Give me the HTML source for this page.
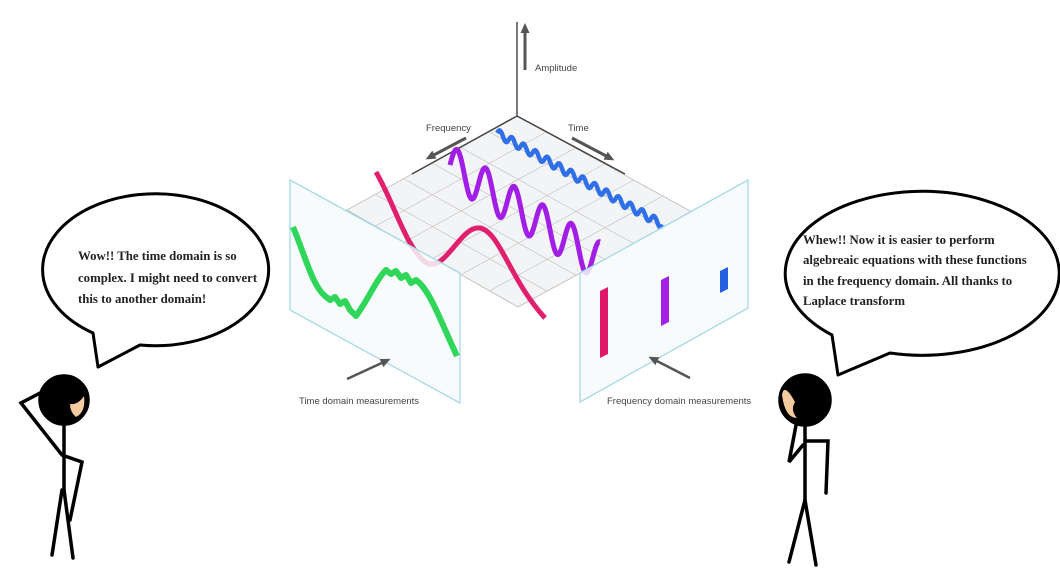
<!DOCTYPE html>
<html><head><meta charset="utf-8"><style>
html,body{margin:0;padding:0;background:#fff;width:1060px;height:586px;overflow:hidden}
svg{display:block}
.lbl{font-family:"Liberation Sans",sans-serif;font-size:9.5px;fill:#444}
.bub{font-family:"Liberation Serif",serif;font-weight:bold;font-size:12.8px;fill:#222}
</style></head><body>
<svg width="1060" height="586" viewBox="0 0 1060 586">
<defs>
<marker id="ah" markerUnits="userSpaceOnUse" markerWidth="10" markerHeight="10" refX="5" refY="5" orient="auto"><path d="M0,0.5 L10,5 L0,9.5 z" fill="#555"/></marker>
</defs>
<g>
<line x1="517" y1="22" x2="517" y2="116" stroke="#333" stroke-width="1.3"/>
<line x1="525" y1="70" x2="525" y2="28" stroke="#555" stroke-width="3" marker-end="url(#ah)"/>
<text class="lbl" x="535" y="71">Amplitude</text>
</g>
<g id="grid">
<polygon points="517,116 692,212 518,307 347,210" fill="#f3f4f6" stroke="#bbb" stroke-width="0.8"/>
</g>
<line x1="517" y1="116" x2="412" y2="174" stroke="#444" stroke-width="1.5"/>
<line x1="517" y1="116" x2="625" y2="174" stroke="#444" stroke-width="1.5"/>
<text class="lbl" x="426" y="131">Frequency</text>
<line x1="466" y1="138" x2="430" y2="157" stroke="#555" stroke-width="3" marker-end="url(#ah)"/>
<text class="lbl" x="568" y="131">Time</text>
<line x1="572" y1="138" x2="610" y2="158" stroke="#555" stroke-width="3" marker-end="url(#ah)"/>
<path id="blue" d="" fill="none" stroke="#2f6fe8" stroke-width="4.5"/>
<path id="purple" d="" fill="none" stroke="#a21ee6" stroke-width="5"/>
<path d="M376,172 C395,205 405,245 425,262 C445,275 460,225 480,228 C500,232 510,280 545,318" fill="none" stroke="#e0206e" stroke-width="5"/>
<polygon points="290,180 460,273 460,403 290,310" fill="#f6fafc" fill-opacity="0.85" stroke="#a6d9e8" stroke-width="1.3"/>
<path d="M293,227 C305,255 312,285 325,296 L330,300 L335,297 L340,304 L345,301 L350,310 L356,316 C368,300 376,280 386,270 L391,274 L396,271 L401,278 L406,275 L411,283 L416,280 C430,290 440,320 457,356" fill="none" stroke="#2fd65a" stroke-width="6" stroke-linejoin="round"/>
<line x1="347" y1="379" x2="386" y2="361" stroke="#555" stroke-width="2.5" marker-end="url(#ah)"/>
<text class="lbl" x="299" y="404">Time domain measurements</text>
<polygon points="580,273 748,180 748,308 580,402" fill="#f6fafc" fill-opacity="0.85" stroke="#a6d9e8" stroke-width="1.3"/>
<g id="bars"></g>
<line x1="690" y1="378" x2="653" y2="359" stroke="#555" stroke-width="2.5" marker-end="url(#ah)"/>
<text class="lbl" x="607" y="404">Frequency domain measurements</text>
<g>
<path d="M93,333 A113,76 0 1 1 140,345 L98,367 Z" fill="#fff" stroke="#000" stroke-width="3" stroke-linejoin="round"/>
<text class="bub" x="78" y="260">Wow!! The time domain is so</text>
<text class="bub" x="78" y="282">complex. I might need to convert</text>
<text class="bub" x="78" y="303">this to another domain!</text>
</g>
<g stroke="#000" stroke-width="3.5" fill="none" stroke-linecap="round">
<line x1="64" y1="425" x2="64" y2="490"/>
<line x1="62" y1="490" x2="52" y2="555"/>
<line x1="64" y1="490" x2="73" y2="558"/>
<polyline points="42,392 21,403 62,455 82,462 70,520"/>
<circle cx="64" cy="400" r="24" fill="#000"/>
<path d="M70,404 Q78,405 84,396 Q86,412 76,417 Q70,412 70,404 Z" fill="#f5cba0" stroke="none"/>
</g>
<g>
<path d="M832,335 A137,82 0 1 1 890,353 L838,375 Z" fill="#fff" stroke="#000" stroke-width="3" stroke-linejoin="round"/>
<text class="bub" x="803" y="244">Whew!! Now it is easier to perform</text>
<text class="bub" x="803" y="264">algebreaic equations with these functions</text>
<text class="bub" x="803" y="285">in the frequency domain. All thanks to</text>
<text class="bub" x="803" y="305">Laplace transform</text>
</g>
<g stroke="#000" stroke-width="3.5" fill="none" stroke-linecap="round">
<line x1="805" y1="425" x2="805" y2="500"/>
<line x1="805" y1="500" x2="789" y2="562"/>
<line x1="805" y1="500" x2="816" y2="565"/>
<polyline points="797,420 789,462 803,445"/>
<polyline points="805,441 828,441 826,493"/>
<circle cx="805" cy="400" r="25" fill="#000"/>
<path d="M782,395 Q784,382 795,402 Q790,410 797,418 Q785,418 782,395 Z" fill="#f5cba0" stroke="none"/>
</g>
</svg>
<script>
const gridDivisions = 6;
const barLabels = ['low', 'mid', 'high'];
const barHeights = [67, 46, 22];
const barColors = ['#e0186a', '#a11fe6', '#2560e0'];
const purpleCycles = 5;
const blueCycles = 14;

const ns = 'http://www.w3.org/2000/svg';
const g = document.getElementById('grid');
const T=[517,116],L=[347,210],R=[692,212],B=[518,307];
function lerp(a,b,t){return [a[0]+(b[0]-a[0])*t,a[1]+(b[1]-a[1])*t];}
for(let i=1;i<gridDivisions;i++){
  const t=i/gridDivisions;
  let a=lerp(T,L,t),b=lerp(R,B,t);
  let l=document.createElementNS(ns,'line');
  l.setAttribute('x1',a[0]);l.setAttribute('y1',a[1]);l.setAttribute('x2',b[0]);l.setAttribute('y2',b[1]);
  l.setAttribute('stroke','#c4c4c4');l.setAttribute('stroke-width','0.7');
  
  
  g.appendChild(l);
  a=lerp(T,R,t);b=lerp(L,B,t);
  l=document.createElementNS(ns,'line');
  l.setAttribute('x1',a[0]);l.setAttribute('y1',a[1]);l.setAttribute('x2',b[0]);l.setAttribute('y2',b[1]);
  l.setAttribute('stroke','#c4c4c4');l.setAttribute('stroke-width','0.7');
  
  
  g.appendChild(l);
}
function wave(x0,y0,x1,y1,cyc,amp,n){
  let d='';
  for(let i=0;i<=n;i++){
    const t=i/n;
    const x=x0+(x1-x0)*t, y=y0+(y1-y0)*t - amp*Math.sin(t*cyc*2*Math.PI);
    d+=(i?'L':'M')+x.toFixed(1)+','+y.toFixed(1);
  }
  return d;
}
document.getElementById('purple').setAttribute('d',wave(450,165,600,262,purpleCycles+0.25,20,300));
document.getElementById('blue').setAttribute('d',wave(497,133,663,225,blueCycles,4,400));
const bg=document.getElementById('bars');
const barX=[600,661,720], barBase=[358,326,293];
barHeights.forEach((h,i)=>{
  const r=document.createElementNS(ns,'polygon');
  const x=barX[i], y=barBase[i];
  r.setAttribute('points',`${x},${y} ${x+8},${y-4} ${x+8},${y-4-h} ${x},${y-h}`);
  r.setAttribute('fill',barColors[i]);
  
  
  bg.appendChild(r);
});
</script>
</body></html>
